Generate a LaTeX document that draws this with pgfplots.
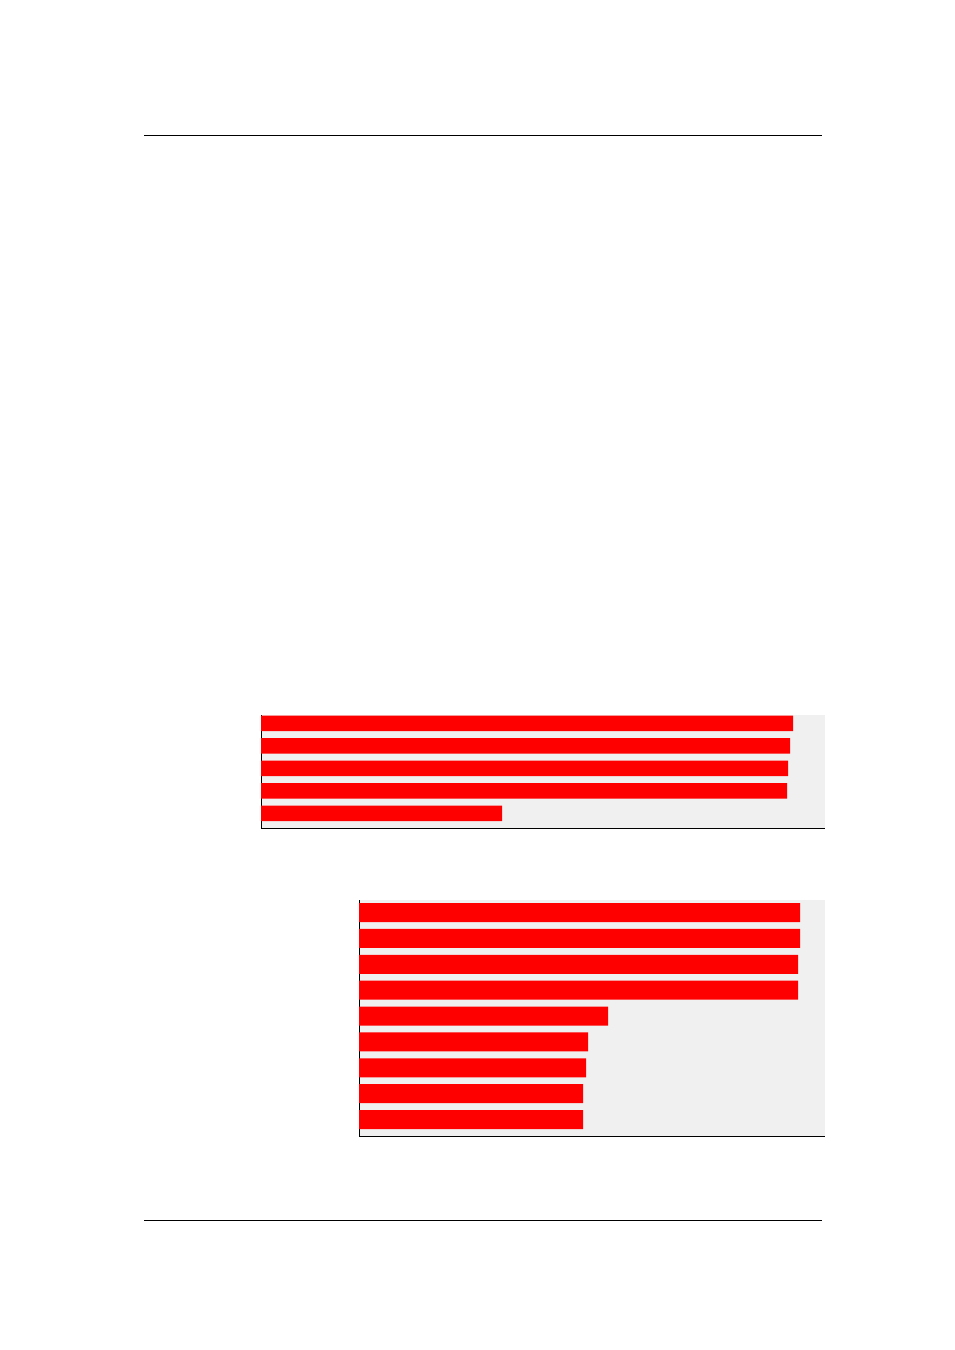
\documentclass[border=0pt]{standalone}
\usepackage{pgfplots}
\pgfplotsset{compat=1.18}
\definecolor{bgc}{RGB}{240,240,240}
\definecolor{barred}{RGB}{255,0,0}
\begin{document}
\begin{tikzpicture}
\path[fill=white] (0,0) rectangle (0.75*954pt,-0.75*1350pt);
\draw[line width=0.75pt] (0.75*144pt,-0.75*135pt) -- (0.75*822pt,-0.75*135pt);
\draw[line width=0.75pt] (0.75*144pt,-0.75*1220pt) -- (0.75*822pt,-0.75*1220pt);
\begin{axis}[
  scale only axis, width=0.75*564pt, height=0.75*113pt,
  anchor=north west, at={(0.75*261pt,-0.75*715pt)},
  xmin=0, xmax=564, ymin=-0.371, ymax=4.651, y dir=reverse,
  axis x line=bottom, axis y line=left, axis line style={-, line width=0.75pt, black},
  xtick=\empty, ytick=\empty,
  axis background/.style={fill=bgc},
  xbar, bar width=0.75*15.3pt,
]
\addplot[fill=barred, draw=none] coordinates {(532,0) (529,1) (527,2) (526,3) (241,4)};
\end{axis}
\begin{axis}[
  scale only axis, width=0.75*466pt, height=0.75*236pt,
  anchor=north west, at={(0.75*359pt,-0.75*900pt)},
  xmin=0, xmax=466, ymin=-0.483, ymax=8.638, y dir=reverse,
  axis x line=bottom, axis y line=left, axis line style={-, line width=0.75pt, black},
  xtick=\empty, ytick=\empty,
  axis background/.style={fill=bgc},
  xbar, bar width=0.75*19pt,
]
\addplot[fill=barred, draw=none] coordinates {(441,0) (441,1) (439,2) (439,3) (249,4) (229,5) (227,6) (224,7) (224,8)};
\end{axis}
\end{tikzpicture}
\end{document}
